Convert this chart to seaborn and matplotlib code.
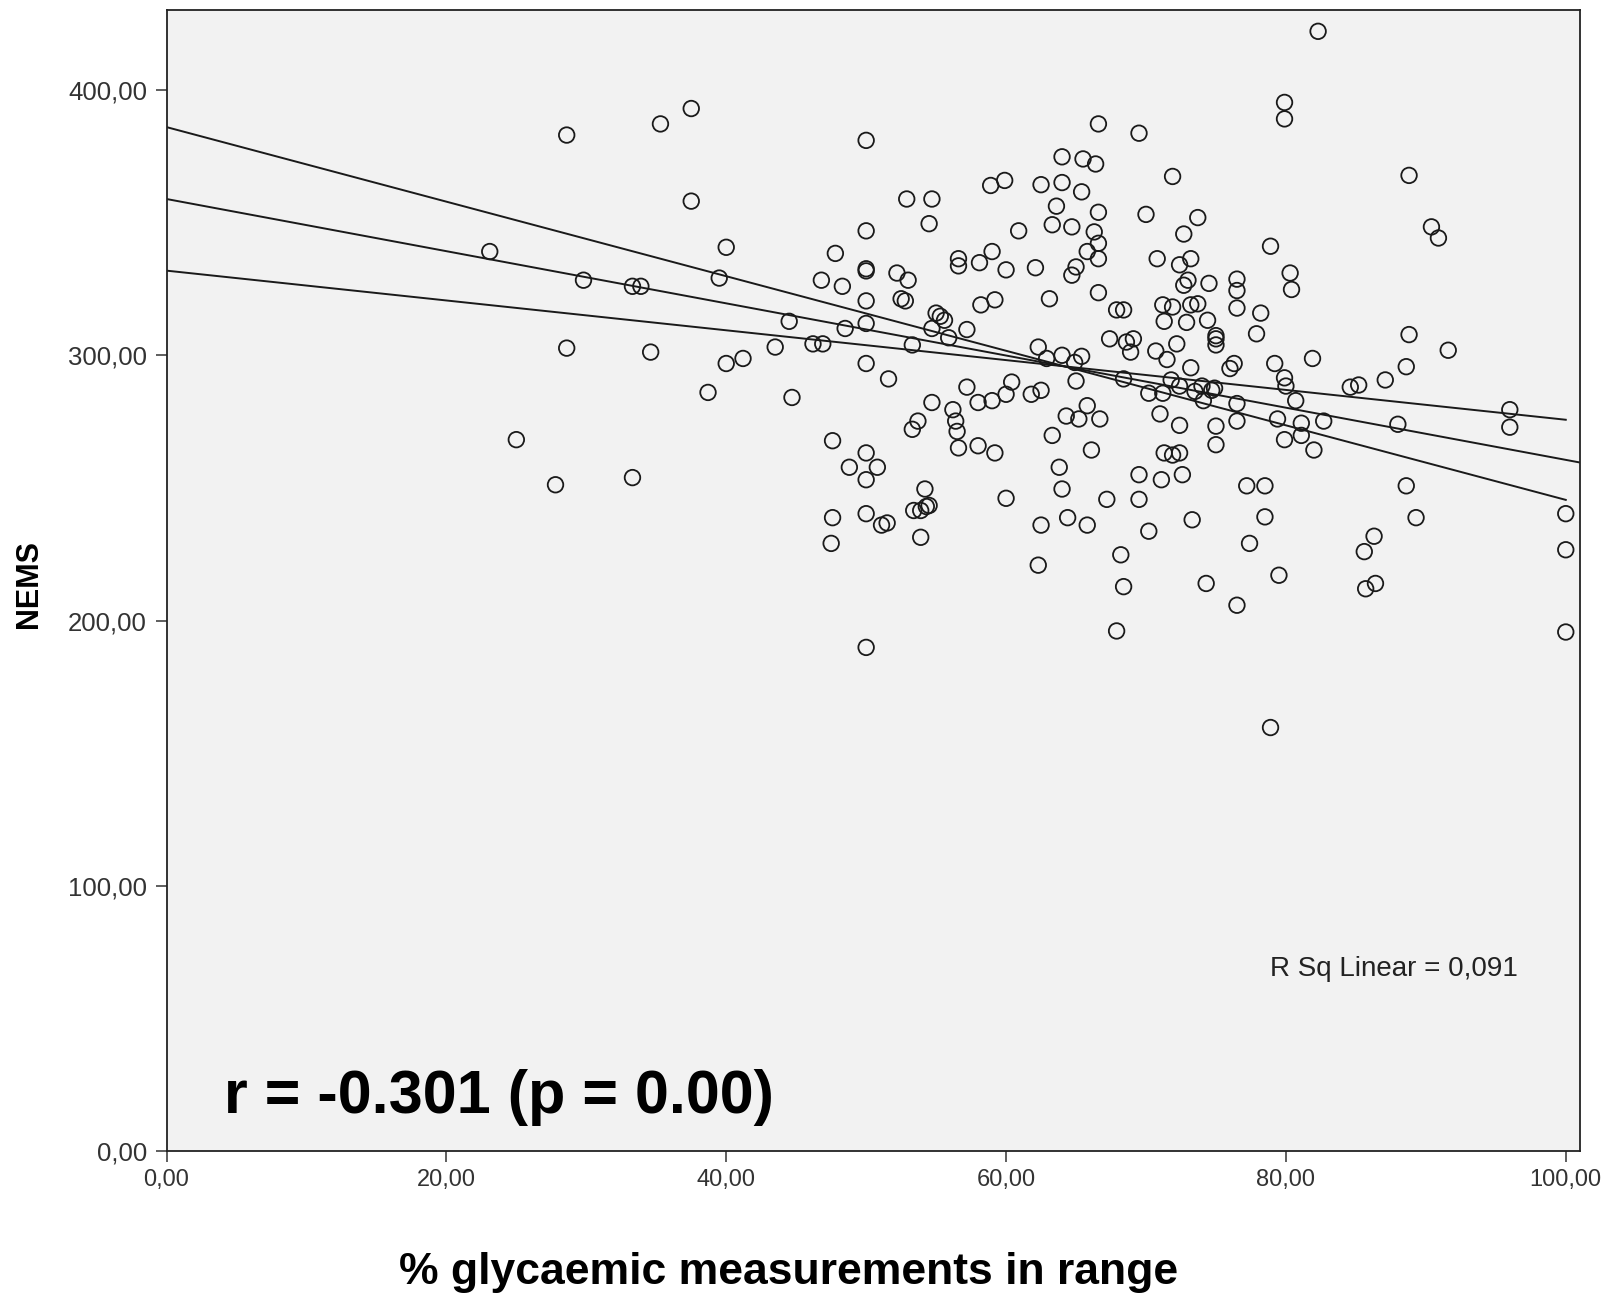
import pandas as pd
import matplotlib
matplotlib.use("Agg")
import matplotlib.pyplot as plt
import seaborn as sns

pct_in_range = [
    23.1, 25.0, 27.8, 28.6, 28.6, 29.8, 33.3, 33.3, 33.9, 34.6,
    35.3, 37.5, 37.5, 38.7, 39.5, 40.0, 40.0, 41.2, 43.5, 44.5,
    44.7, 46.2, 46.9, 46.8, 47.6, 47.6, 47.5, 47.8, 48.3, 48.5,
    48.8, 50.0, 50.0, 50.0, 50.0, 50.0, 50.0, 50.0, 50.0, 50.0,
    50.0, 50.0, 50.8, 51.1, 51.5, 51.6, 52.2, 52.5, 52.8, 53.0,
    52.9, 53.3, 53.3, 53.7, 53.4, 53.9, 53.9, 54.2, 54.3, 54.5,
    54.7, 54.5, 54.7, 54.7, 55.0, 55.3, 55.6, 55.9, 56.2, 56.4,
    56.5, 56.6, 56.6, 56.6, 57.2, 57.2, 58.0, 58.0, 58.1, 58.2,
    58.9, 59.0, 59.0, 59.2, 59.2, 59.9, 60.0, 60.0, 60.0, 60.4,
    60.9, 61.8, 62.1, 62.3, 62.5, 62.5, 62.3, 62.5, 62.9, 63.1,
    63.3, 63.3, 63.6, 64.0, 64.0, 63.8, 64.0, 64.0, 64.3, 64.4,
    64.7, 64.7, 64.9, 65.0, 65.0, 65.2, 65.4, 65.4, 65.5, 65.8,
    65.8, 65.8, 66.1, 66.3, 66.4, 66.6, 66.6, 66.6, 66.6, 66.6,
    66.7, 67.2, 67.4, 67.9, 67.9, 68.2, 68.4, 68.4, 68.4, 68.6,
    68.9, 69.1, 69.5, 69.5, 69.5, 70.0, 70.2, 70.2, 70.7, 70.8,
    71.0, 71.1, 71.2, 71.2, 71.3, 71.3, 71.5, 71.8, 71.9, 71.9,
    71.9, 72.2, 72.4, 72.4, 72.4, 72.4, 72.6, 72.7, 72.7, 72.9,
    73.0, 73.2, 73.2, 73.2, 73.3, 73.5, 73.7, 73.7, 74.0, 74.1,
    74.3, 74.4, 74.7, 74.5, 75.0, 75.0, 75.0, 75.0, 75.0, 74.9,
    76.0, 76.3, 76.5, 76.5, 76.5, 76.5, 76.5, 76.5, 77.2, 77.4,
    77.9, 78.2, 78.5, 78.5, 78.9, 78.9, 79.2, 79.4, 79.5, 79.9,
    79.9, 79.9, 79.9, 80.0, 80.3, 80.4, 80.7, 81.1, 81.1, 81.9,
    82.0, 82.3, 82.7, 84.6, 85.2, 85.6, 85.7, 86.3, 86.4, 87.1,
    88.0, 88.8, 88.8, 88.6, 88.6, 89.3, 90.4, 90.9, 91.6, 96.0,
    96.0, 100.0, 100.0, 100.0,
]
nems = [
    339.1, 268.2, 251.2, 383.0, 302.7, 328.3, 253.9, 326.0, 326.0, 301.2,
    387.2, 393.0, 358.1, 286.0, 329.1, 340.7, 296.9, 298.8, 303.1, 312.8,
    284.1, 304.3, 304.3, 328.3, 267.8, 238.8, 229.1, 338.4, 326.0, 310.1,
    257.8, 381.0, 346.9, 332.6, 331.8, 320.5, 312.0, 296.9, 263.2, 253.1,
    240.3, 189.9, 257.8, 236.0, 236.8, 291.1, 331.0, 321.3, 320.5, 328.3,
    358.9, 303.9, 272.1, 275.2, 241.5, 231.4, 241.5, 249.6, 243.0, 349.6,
    358.9, 243.4, 282.2, 310.1, 315.9, 314.7, 313.2, 306.6, 279.5, 275.2,
    271.3, 336.4, 333.7, 265.1, 288.0, 309.7, 282.2, 265.9, 334.9, 319.0,
    364.0, 339.1, 282.9, 320.9, 263.2, 365.9, 332.2, 285.3, 246.1, 289.9,
    346.9, 285.3, 333.0, 303.1, 364.3, 286.8, 220.9, 236.0, 298.8, 321.3,
    269.8, 349.2, 356.2, 365.1, 374.8, 257.8, 249.6, 300.0, 277.1, 238.8,
    348.4, 330.2, 297.3, 290.3, 333.3, 276.0, 361.6, 299.6, 374.0, 236.0,
    281.0, 339.1, 264.3, 346.5, 372.1, 387.2, 353.9, 342.2, 336.4, 323.6,
    276.0, 245.7, 306.2, 317.1, 196.1, 224.8, 212.8, 317.1, 291.1, 305.0,
    301.2, 306.2, 383.7, 255.0, 245.7, 353.1, 285.7, 233.7, 301.6, 336.4,
    277.9, 253.1, 319.0, 285.7, 312.8, 263.2, 298.4, 290.7, 367.4, 262.4,
    318.2, 304.3, 334.1, 288.4, 273.6, 263.2, 255.0, 345.7, 326.4, 312.4,
    328.3, 336.4, 319.0, 295.3, 238.0, 286.4, 351.9, 319.4, 288.4, 282.9,
    214.0, 313.2, 286.8, 327.1, 307.4, 306.2, 303.9, 273.3, 266.3, 287.6,
    295.0, 296.9, 281.8, 275.2, 328.7, 324.4, 317.8, 205.8, 250.8, 229.1,
    308.1, 315.9, 250.8, 239.1, 341.1, 159.7, 296.9, 276.0, 217.1, 395.3,
    389.1, 291.5, 268.2, 288.4, 331.0, 324.8, 282.9, 274.4, 269.8, 298.8,
    264.3, 422.1, 275.2, 288.0, 288.8, 226.0, 212.0, 231.8, 214.0, 290.7,
    274.0, 367.8, 307.8, 295.7, 250.8, 238.8, 348.4, 344.2, 301.9, 279.5,
    272.9, 240.3, 226.7, 195.7,
]

# fitted line and the two bounding lines drawn in the original (x start/end, y start/end)
line_x = [[0, 100], [0, 101], [0, 100]]
line_y = [[386.0, 245.5], [358.9, 259.6], [331.9, 275.7]]

x_ticks = [0, 20, 40, 60, 80, 100]
y_ticks = [0, 100, 200, 300, 400]

df = pd.DataFrame({"pct": pct_in_range, "nems": nems})

plt.rcParams["font.family"] = ["Liberation Sans", "DejaVu Sans"]

fig = plt.figure(figsize=(16.12, 12.95), dpi=100)
ax = fig.add_axes([0.1033, 0.111, 0.8767, 0.881])
ax.set_facecolor("#f2f2f2")

sns.scatterplot(data=df, x="pct", y="nems", ax=ax, marker="o", s=125,
                facecolor="none", edgecolor="#1a1a1a", linewidth=1.3, legend=False)

for xs, ys in zip(line_x, line_y):
    ax.plot(xs, ys, color="#1a1a1a", linewidth=1.4)

ax.set_xlim(0, 101)
ax.set_ylim(0, 430)
ax.set_xticks(x_ticks)
ax.set_yticks(y_ticks)
ax.set_xticklabels([f"{v},00" for v in x_ticks])
ax.set_yticklabels([f"{v},00" for v in y_ticks])
ax.set_xlabel("")
ax.set_ylabel("")
ax.tick_params(axis="both", direction="out", length=8, width=1.1,
               labelcolor="#333333", color="#333333")
ax.tick_params(axis="x", pad=5, labelsize=17)
ax.tick_params(axis="y", pad=6, labelsize=18.5)
for sp in ax.spines.values():
    sp.set_color("#222222")
    sp.set_linewidth(1.3)

# axis titles placed like the original (x title centred on the figure, not the axes)
fig.text(0.489, 0.017, "% glycaemic measurements in range", fontsize=32,
         fontweight="bold", ha="center", va="center")
fig.text(0.0179, 0.549, "NEMS", fontsize=22, fontweight="bold", rotation=90,
         ha="center", va="center")

ax.text(0.956, 0.1595, "R Sq Linear = 0,091", transform=ax.transAxes,
        fontsize=20, ha="right", va="center", color="#222222")
ax.text(0.041, 0.047, "r = -0.301 (p = 0.00)", transform=ax.transAxes,
        fontsize=44, fontweight="bold", ha="left", va="center")

fig.savefig("out.png", dpi=100, facecolor="white")
